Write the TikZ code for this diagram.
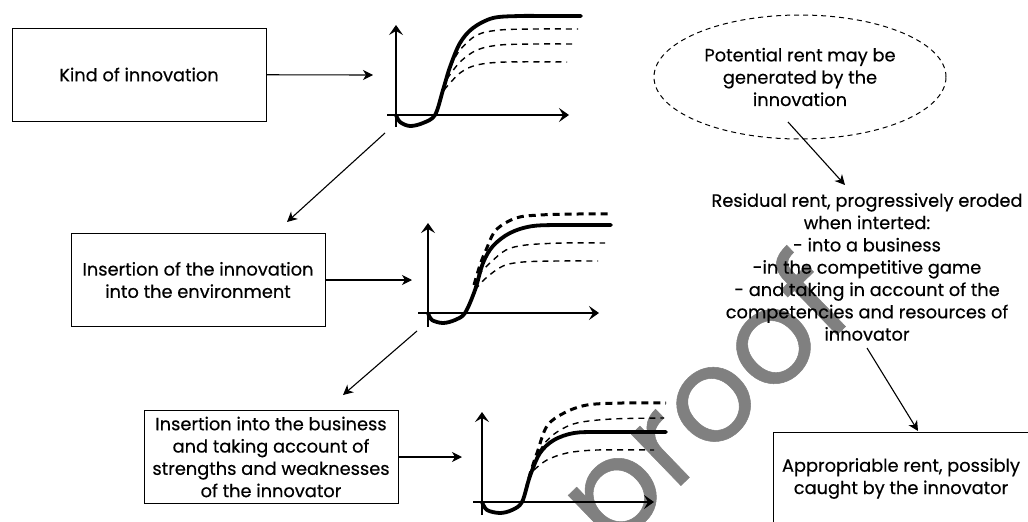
\documentclass[tikz,border=0pt]{standalone}
\usepackage{fontspec}
\setmainfont{Poppins}[FakeBold=0.4]
\usetikzlibrary{arrows.meta,shapes.geometric}
\newcommand{\fsz}{\fontsize{17.8}{22.3}\selectfont}
\definecolor{wm}{RGB}{128,128,128}
\begin{document}
\begin{tikzpicture}[x=1pt,y=-1pt,
  box/.style={draw, line width=0.9pt, minimum width=254pt, minimum height=93pt, align=center, font=\fsz, inner sep=0pt},
  conn/.style={line width=1.1pt, -{Stealth[length=10pt,width=10pt,inset=3pt]}},
  axis/.style={line width=1.8pt, -{Stealth[length=10pt,width=14pt,inset=4pt]}},
  mainc/.style={line width=3.8pt, line cap=round},
  thind/.style={line width=1.4pt, dash pattern=on 6pt off 5pt},
  thickd/.style={line width=3pt, dash pattern=on 7pt off 5pt},
  plain/.style={align=center, font=\fsz, inner sep=0pt}
]
\useasboundingbox (0,0) rectangle (1028,522);
\fill[white] (0,0) rectangle (1028,522);

% watermark
\node[rotate=44, text=wm, font=\fontsize{130}{130}\selectfont, inner sep=0pt] (wmk) at (712,410) {proof};

% boxes
\node[box] (b1) at (139,74.5) {Kind of innovation};
\node[box] (b2) at (198,280) {Insertion of the innovation\\into the environment};
\node[box] (b3) at (271,457) {Insertion into the business\\and taking account of\\strengths and weaknesses\\of the innovator};
\node[box, minimum width=256pt] (b4) at (901,478.5) {Appropriable rent, possibly\\caught by the innovator};
\node[plain, draw, ellipse, line width=1pt, dash pattern=on 5pt off 4pt, minimum width=292pt, minimum height=124pt] (pot) at (800,77) {Potential rent may be\\generated by the\\innovation};
\node[plain] (res) at (867,267) {Residual rent, progressively eroded\\when interted:\\- into a business\\-in the competitive game\\- and taking in account of the\\competencies and resources of\\innovator};

% graph anchor coordinates
\coordinate (g1in) at (373,75);
\coordinate (g2in) at (412,280);
\coordinate (g3in) at (462,457);
\coordinate (g1out) at (385,133);
\coordinate (b2top) at (287,222);
\coordinate (g2out) at (417,331);
\coordinate (b3top) at (343,395);
\coordinate (potout) at (788,122);
\coordinate (restop) at (845,185);
\coordinate (resout) at (867,348);
\coordinate (b4top) at (918,431);

% graph 1
\begin{scope}[shift={(396,115)}]
\draw[axis] (-9,0) -- (173,0);
\draw[axis] (0,12) -- (0,-90);
\draw[thind] plot[smooth, tension=0.55] coordinates {(54,-48) (64,-65) (81,-80) (104,-85) (140,-86) (182,-86)};
\draw[thind] plot[smooth, tension=0.55] coordinates {(51,-36) (64,-53) (81,-65) (104,-70) (140,-71) (176,-71)};
\draw[thind] plot[smooth, tension=0.55] coordinates {(48,-25) (64,-42) (81,-50) (110,-53) (171,-53)};
\draw[mainc] plot[smooth, tension=0.55] coordinates {(0,0) (4,7) (14,11) (27,8) (39,0) (47,-25) (54,-48) (64,-72) (77,-87) (97,-97) (124,-99) (150,-99) (185,-99)};
\end{scope}

% graph 2
\begin{scope}[shift={(428,313)}]
\draw[axis] (-10,0) -- (171,0);
\draw[axis] (0,14) -- (0,-90);
\draw[thind] plot[smooth, tension=0.55] coordinates {(50,-38) (62,-50) (78,-63) (98,-68) (135,-70) (177,-70)};
\draw[thind] plot[smooth, tension=0.55] coordinates {(47,-23) (58,-35) (75,-47) (95,-51) (130,-52) (170,-52)};
\draw[thickd] plot[smooth, tension=0.55] coordinates {(46,-28) (52,-48) (58,-63) (68,-83) (88,-95) (112,-98) (150,-99) (182,-99)};
\draw[mainc] plot[smooth, tension=0.55] coordinates {(0,0) (4,7) (15,10) (27,7) (37,0) (47,-23) (55,-50) (65,-67) (82,-80) (105,-87) (140,-88) (183,-88)};
\end{scope}

% graph 3
\begin{scope}[shift={(482,502)}]
\draw[axis] (-9,0) -- (172,0);
\draw[axis] (0,13) -- (0,-90);
\draw[thind] plot[smooth, tension=0.55] coordinates {(50,-30) (55,-45) (62,-58) (75,-70) (95,-79) (130,-83) (182,-84)};
\draw[thind] plot[smooth, tension=0.55] coordinates {(52,-32) (65,-42) (85,-49) (115,-52) (172,-52)};
\draw[thickd] plot[smooth, tension=0.55] coordinates {(44,-12) (48,-28) (55,-49) (65,-76) (82,-89) (105,-97) (140,-99) (184,-99)};
\draw[mainc] plot[smooth, tension=0.55] coordinates {(0,0) (5,8) (18,11) (30,8) (40,0) (48,-26) (58,-49) (72,-62) (92,-69) (120,-70) (184,-70)};
\end{scope}

% connectors
\draw[conn] (b1) -- (g1in);
\draw[conn] (b2) -- (g2in);
\draw[conn] (b3) -- (g3in);
\draw[conn] (g1out) -- (b2top);
\draw[conn] (g2out) -- (b3top);
\draw[conn] (potout) -- (restop);
\draw[conn] (resout) -- (b4top);
\end{tikzpicture}
\end{document}
